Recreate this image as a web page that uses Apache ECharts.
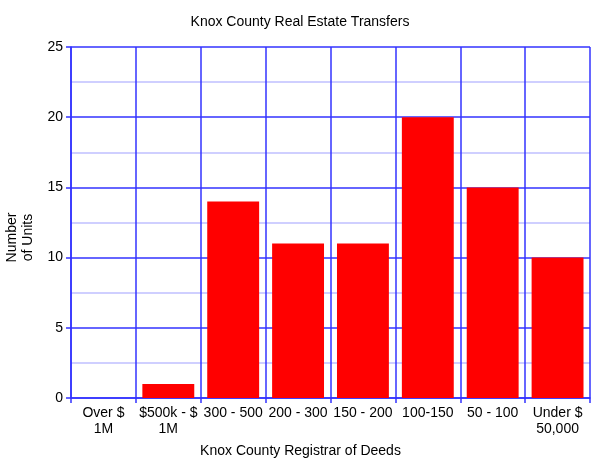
<!DOCTYPE html>
<html>
<head>
    <meta charset="utf-8">
    <title>Knox County Real Estate Transfers</title>
    <script src="https://cdn.jsdelivr.net/npm/echarts@6/dist/echarts.min.js"></script>
    <style>
        html, body {margin:0;padding:0;background:#fff;}
        #chart {width:600px;height:463px;}
    </style>
</head>
<body>
<div id="chart"></div>
<script>
    var categories = ['Over $\n1M', '$500k - $\n1M', '300 - 500', '200 - 300', '150 - 200', '100-150', '50 - 100', 'Under $\n50,000'];
    var units = [0, 1, 14, 11, 11, 20, 15, 10];
    var blue = '#3333ff';
    var font = 'Liberation Sans, Arial, sans-serif';

    var chart = echarts.init(document.getElementById('chart'));
    chart.setOption({
        animation: false,
        title: {
            text: 'Knox County Real Estate Transfers',
            left: 'center',
            top: 10,
            textStyle: {fontFamily: font, fontSize: 14, fontWeight: 'normal', color: '#000'}
        },
        grid: {left: 71, right: 10, top: 47, bottom: 65, outerBoundsMode: 'none', containLabel: false},
        xAxis: {
            type: 'category',
            data: categories,
            name: 'Knox County Registrar of Deeds',
            nameLocation: 'middle',
            nameGap: 46,
            // centred on the page rather than on the plot
            nameTextStyle: {fontFamily: font, fontSize: 14, color: '#000', padding: [0, 60, 0, 0]},
            axisLine: {lineStyle: {color: blue, width: 1.5}},
            axisTick: {show: true, length: 5, lineStyle: {color: blue, width: 1.5}},
            axisLabel: {fontFamily: font, fontSize: 14, color: '#000', margin: 7, lineHeight: 16, interval: 0},
            splitLine: {show: true, lineStyle: {color: blue, width: 1.5}}
        },
        yAxis: {
            type: 'value',
            min: 0,
            max: 25,
            interval: 5,
            name: 'Number\nof Units',
            nameLocation: 'middle',
            nameRotate: 90,
            nameGap: 32,
            nameTextStyle: {fontFamily: font, fontSize: 14, color: '#000', align: 'center', lineHeight: 16, padding: [0, 30, 0, 0]},
            axisLine: {show: true, lineStyle: {color: blue, width: 1.5}},
            axisTick: {show: true, length: 5, lineStyle: {color: blue, width: 1.5}},
            axisLabel: {fontFamily: font, fontSize: 14, color: '#000', margin: 8},
            splitLine: {show: true, lineStyle: {color: blue, width: 1.5}},
            minorTick: {show: false, splitNumber: 2},
            minorSplitLine: {show: true, lineStyle: {color: '#c0c0ff', width: 1.5}}
        },
        series: [{
            type: 'bar',
            data: units,
            barCategoryGap: '20%',
            itemStyle: {color: '#ff0000'}
        }]
    });
</script>
</body>
</html>
